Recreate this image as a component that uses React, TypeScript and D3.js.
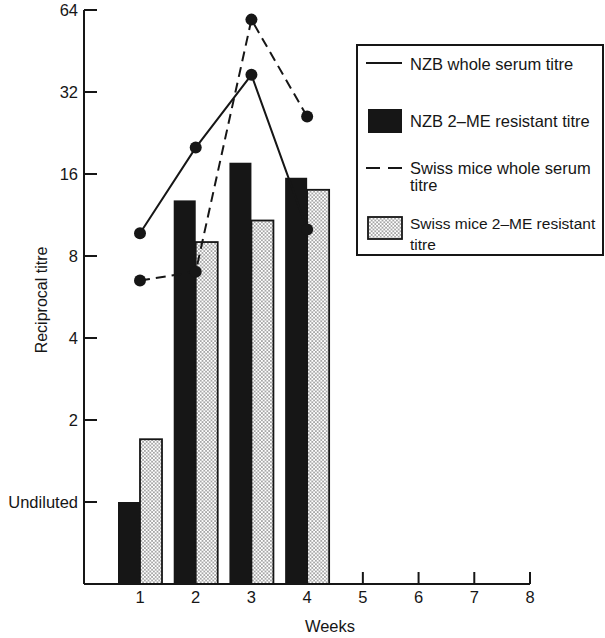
import React from "react";
import * as d3 from "d3";

const weeks = [1, 2, 3, 4];
const xTickWeeks = [1, 2, 3, 4, 5, 6, 7, 8];
const nzbWhole = [9.7, 20, 37, 10];
const nzb2ME = [1, 12.8, 17.6, 15.5];
const swissWhole = [6.5, 7, 59, 26];
const swiss2ME = [1.7, 9, 10.8, 14];
const yTickValues = [1, 2, 4, 8, 16, 32, 64];
const yTickLabels = ["Undiluted", "2", "4", "8", "16", "32", "64"];

const legendItems = [
  { kind: "solid", lines: ["NZB whole serum titre"] },
  { kind: "black", lines: ["NZB 2\u2013ME resistant titre"] },
  { kind: "dashed", lines: ["Swiss mice whole serum", "titre"] },
  { kind: "stipple", lines: ["Swiss mice 2\u2013ME resistant", "titre"] },
];

const FONT = "'Liberation Sans', Arial, sans-serif";
const INK = "#161616";

export default function App() {
  const x = d3.scaleLinear().domain([1, 8]).range([140, 530]);
  const y = d3.scaleLog().base(2).domain([0.5, 64]).range([584, 10]);
  const x0 = 84;
  const y0 = 584;
  const bw = 22;

  const line = d3
    .line<number>()
    .x((_, i) => x(weeks[i]))
    .y((d) => y(d));

  const legendRows = [
    { symY: 63, textY: [70] },
    { symY: 121, textY: [127] },
    { symY: 168, textY: [174, 191] },
    { symY: 228, textY: [229, 250] },
  ];

  return (
    <svg
      width={605}
      height={638}
      style={{ position: "absolute", left: 0, top: 0, background: "#fff" }}
      fontFamily={FONT}
    >
      <defs>
        <pattern id="stip" width={3.6} height={3.6} patternUnits="userSpaceOnUse">
          <rect width={3.6} height={3.6} fill="#fff" />
          <circle cx={0.9} cy={0.9} r={0.65} fill="#222" />
          <circle cx={2.7} cy={2.7} r={0.65} fill="#222" />
        </pattern>
      </defs>
      <rect width={605} height={638} fill="#fff" />

      {/* bars */}
      {weeks.map((w, i) => (
        <g key={"b" + w}>
          <rect
            x={x(w) - bw}
            y={y(nzb2ME[i])}
            width={bw}
            height={y0 - y(nzb2ME[i])}
            fill={INK}
          />
          <rect
            x={x(w)}
            y={y(swiss2ME[i])}
            width={bw}
            height={y0 - y(swiss2ME[i])}
            fill="url(#stip)"
            stroke={INK}
            strokeWidth={1.8}
          />
        </g>
      ))}

      {/* lines */}
      <path d={line(nzbWhole) || ""} fill="none" stroke={INK} strokeWidth={2} />
      <path
        d={line(swissWhole) || ""}
        fill="none"
        stroke={INK}
        strokeWidth={2}
        strokeDasharray="10,6"
      />
      {weeks.map((w, i) => (
        <g key={"p" + w}>
          <circle cx={x(w)} cy={y(nzbWhole[i])} r={6} fill={INK} />
          <circle cx={x(w)} cy={y(swissWhole[i])} r={6} fill={INK} />
        </g>
      ))}

      {/* y axis */}
      <line x1={x0} x2={x0} y1={10} y2={y0} stroke={INK} strokeWidth={2} />
      {yTickValues.map((v, i) => (
        <g key={"yt" + v}>
          <line x1={x0} x2={x0 + 13} y1={y(v)} y2={y(v)} stroke={INK} strokeWidth={2} />
          <text
            x={78}
            y={y(v) + 6}
            textAnchor="end"
            fontSize={16.5}
            fill={INK}
          >
            {yTickLabels[i]}
          </text>
        </g>
      ))}
      <text
        transform="translate(47,300) rotate(-90)"
        textAnchor="middle"
        fontSize={16}
        fill={INK}
      >
        Reciprocal titre
      </text>

      {/* x axis */}
      <line x1={x0} x2={x(8)} y1={y0} y2={y0} stroke={INK} strokeWidth={2} />
      {xTickWeeks.map((w) => (
        <g key={"xt" + w}>
          {w >= 5 && (
            <line x1={x(w)} x2={x(w)} y1={y0} y2={y0 - 12} stroke={INK} strokeWidth={2} />
          )}
          <text x={x(w)} y={603} textAnchor="middle" fontSize={16.5} fill={INK}>
            {w}
          </text>
        </g>
      ))}
      <text x={330} y={632} textAnchor="middle" fontSize={16.5} fill={INK}>
        Weeks
      </text>

      {/* legend */}
      <rect x={357} y={45} width={246} height={210} fill="#fff" stroke={INK} strokeWidth={2} />
      {legendItems.map((it, i) => {
        const r = legendRows[i];
        return (
          <g key={"l" + i}>
            {it.kind === "solid" && (
              <line x1={366} x2={402} y1={r.symY} y2={r.symY} stroke={INK} strokeWidth={2} />
            )}
            {it.kind === "dashed" && (
              <line
                x1={366}
                x2={402}
                y1={r.symY}
                y2={r.symY}
                stroke={INK}
                strokeWidth={2}
                strokeDasharray="14,8"
              />
            )}
            {it.kind === "black" && (
              <rect x={368} y={r.symY - 12} width={34} height={24} fill={INK} />
            )}
            {it.kind === "stipple" && (
              <rect
                x={368}
                y={r.symY - 11}
                width={34}
                height={22}
                fill="url(#stip)"
                stroke={INK}
                strokeWidth={1.8}
              />
            )}
            {it.lines.map((t, j) => (
              <text
                key={j}
                x={410}
                y={r.textY[j]}
                fontSize={it.kind === "stipple" ? 15.5 : 16.5}
                fill={INK}
              >
                {t}
              </text>
            ))}
          </g>
        );
      })}
    </svg>
  );
}
